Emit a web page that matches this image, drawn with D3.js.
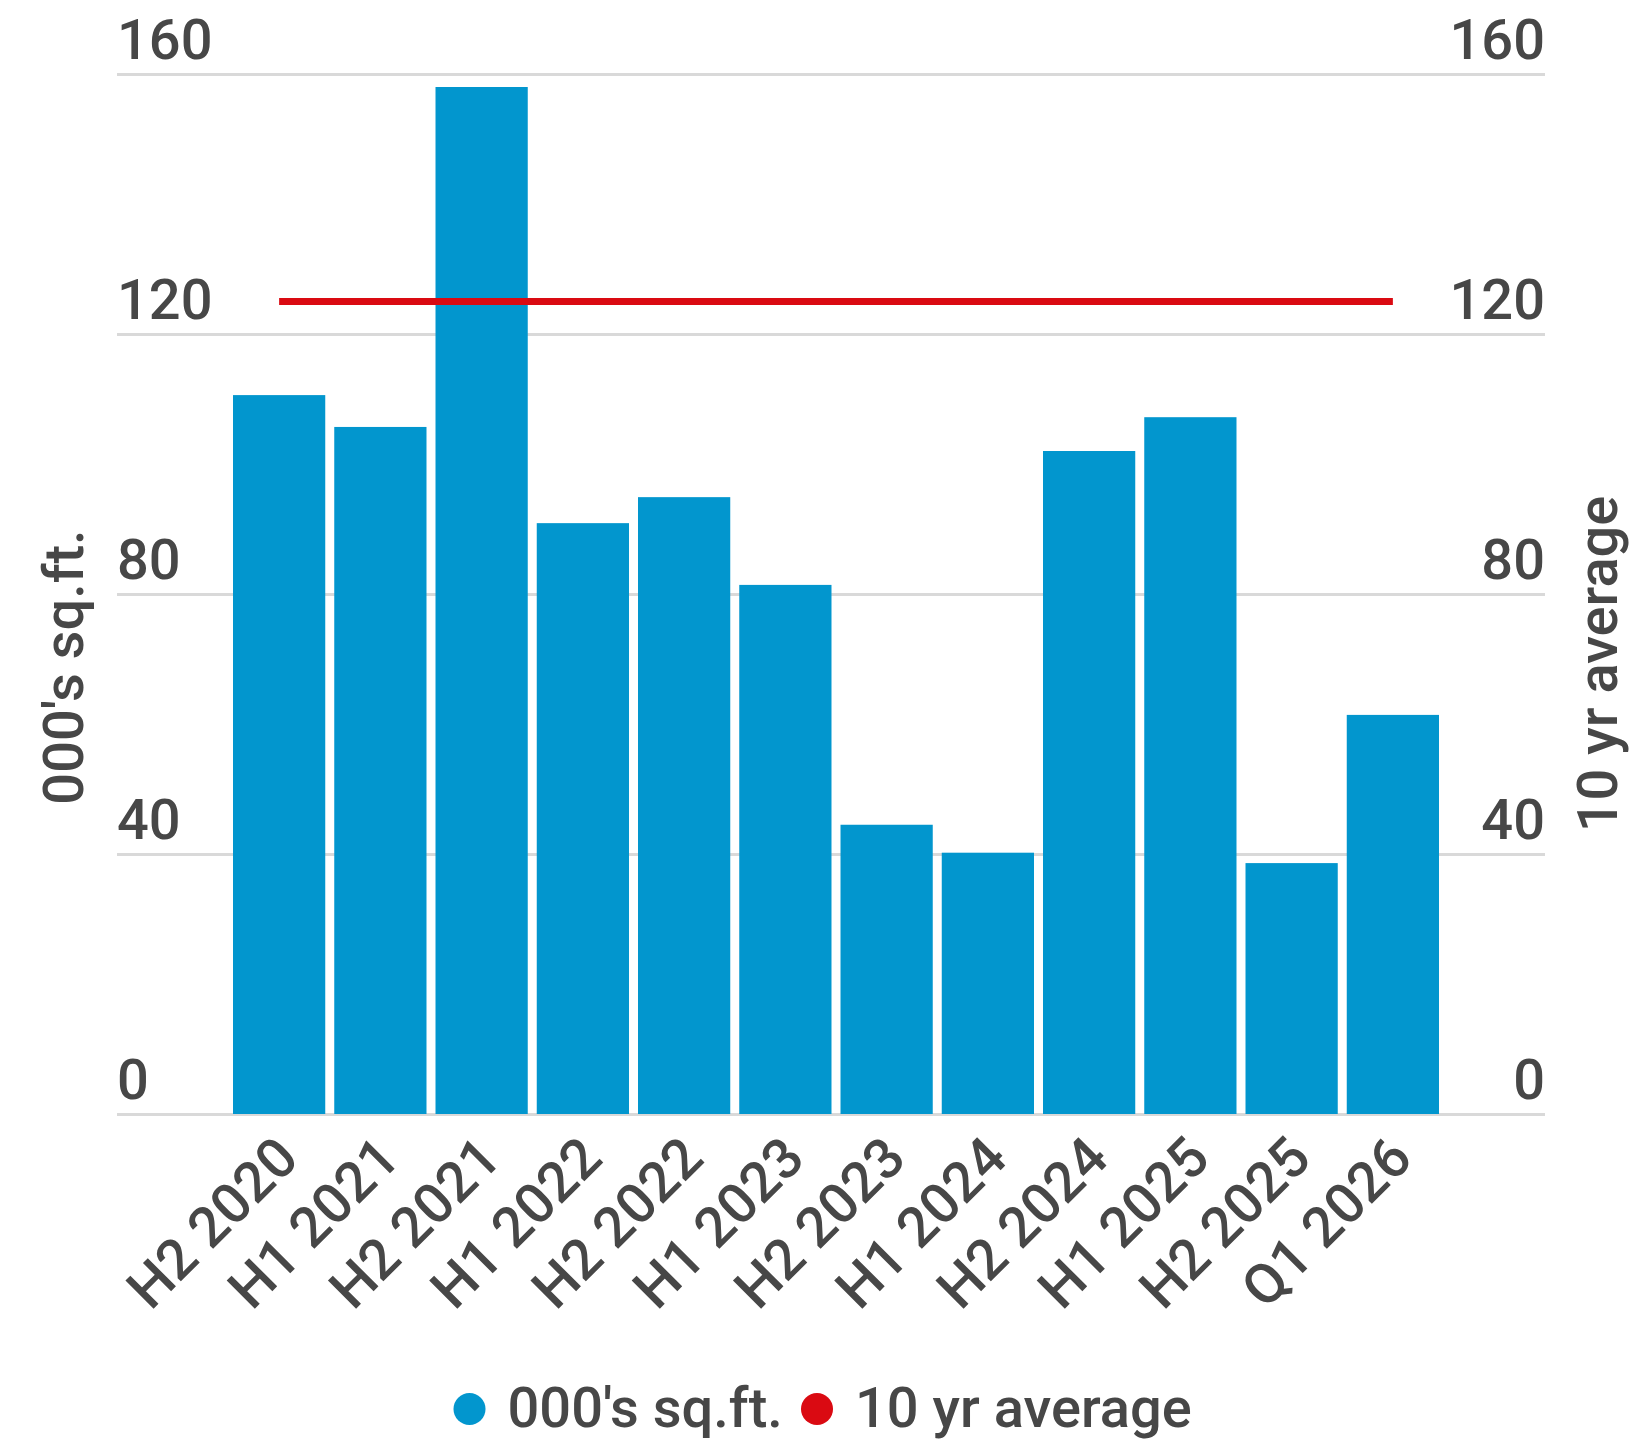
<html>
<head>
<meta charset="utf8">
<script src="https://cdn.jsdelivr.net/npm/d3@7"></script>
<style>
body { margin: 0; background: #fff; }
text { font-family: Roboto, "Noto Sans", sans-serif; font-weight: 500; }
</style>
</head>
<body>
<div id="canvas"></div>
<script>

const categories = ['H2 2020','H1 2021','H2 2021','H1 2022','H2 2022','H1 2023','H2 2023','H1 2024','H2 2024','H1 2025','H2 2025','Q1 2026'];
const sqft = [110.6, 105.7, 158, 90.9, 94.9, 81.4, 44.5, 40.2, 102, 107.2, 38.6, 61.4];
const tenYearAvg = [125, 125, 125, 125, 125, 125, 125, 125, 125, 125, 125, 125];
const yTicks = [0, 40, 80, 120, 160];
const seriesNames = ["000's sq.ft.", '10 yr average'];

const W = 1633, H = 1439;
const blue = '#0296ce', red = '#da0a12', grey = '#474747';
const fs = 56;

const svg = d3.select('#canvas').append('svg')
    .attr('width', W)
    .attr('height', H)
    .attr('viewBox', `0 0 ${W} ${H}`);

// plot area
const plotLeft = 117, plotRight = 1545, plotTop = 74, plotBottom = 1114;

const x = d3.scaleBand()
    .domain(categories)
    .range([228.5, 1443.5])
    .paddingInner(0.089)
    .paddingOuter(0.0445);

const y = d3.scaleLinear().domain([0, 160]).range([plotBottom, plotTop]);
const y2 = d3.scaleLinear().domain([0, 160]).range([plotBottom, plotTop]);

// gridlines
const grid = svg.append('g')
    .attr('transform', `translate(${plotLeft},0)`)
    .call(d3.axisLeft(y).tickValues(yTicks).tickSize(-(plotRight - plotLeft)).tickFormat(''));
grid.select('.domain').remove();
grid.selectAll('line').attr('stroke', '#d9d9d9').attr('stroke-width', 3);

// tick labels left / right
svg.append('g').selectAll('text')
    .data(yTicks)
    .join('text')
    .attr('x', plotLeft)
    .attr('y', d => y(d) - 15)
    .attr('font-size', fs)
    .attr('fill', grey)
    .text(d => d);

svg.append('g').selectAll('text')
    .data(yTicks)
    .join('text')
    .attr('x', plotRight)
    .attr('y', d => y2(d) - 15)
    .attr('text-anchor', 'end')
    .attr('font-size', fs)
    .attr('fill', grey)
    .text(d => d);

// bars
svg.append('g').selectAll('rect')
    .data(sqft)
    .join('rect')
    .attr('x', (d, i) => x(categories[i]))
    .attr('y', d => y(d))
    .attr('width', x.bandwidth())
    .attr('height', d => y(0) - y(d))
    .attr('fill', blue);

// 10 yr average line
const line = d3.line()
    .x((d, i) => x(categories[i]) + x.bandwidth() / 2)
    .y(d => y2(d));

svg.append('path')
    .datum(tenYearAvg)
    .attr('fill', 'none')
    .attr('stroke', red)
    .attr('stroke-width', 7)
    .attr('d', line);

// category labels
svg.append('g').selectAll('text')
    .data(categories)
    .join('text')
    .attr('transform', d => `translate(${x(d) + x.bandwidth() / 2 + 22},1161) rotate(-45)`)
    .attr('text-anchor', 'end')
    .attr('font-size', fs)
    .attr('fill', grey)
    .text(d => d);

// axis titles
svg.append('text')
    .attr('transform', 'translate(83,667) rotate(-90)')
    .attr('text-anchor', 'middle')
    .attr('font-size', fs)
    .attr('fill', grey)
    .text(seriesNames[0]);

svg.append('text')
    .attr('transform', 'translate(1617,664) rotate(-90)')
    .attr('text-anchor', 'middle')
    .attr('font-size', fs)
    .attr('fill', grey)
    .text(seriesNames[1]);

// legend
const legend = svg.append('g');
const legendItems = [
    {name: seriesNames[0], color: blue, cx: 469.5},
    {name: seriesNames[1], color: red, cx: 817}
];
legendItems.forEach(it => {
    legend.append('circle')
        .attr('cx', it.cx)
        .attr('cy', 1409)
        .attr('r', 16)
        .attr('fill', it.color);
    legend.append('text')
        .attr('x', it.cx + 38)
        .attr('y', 1427)
        .attr('font-size', fs)
        .attr('fill', grey)
        .text(it.name);
});

</script>
</body>
</html>
